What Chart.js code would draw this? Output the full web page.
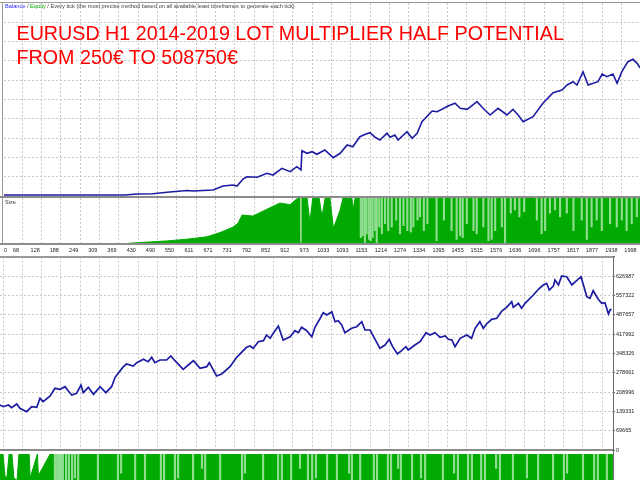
<!DOCTYPE html>
<html><head><meta charset="utf-8">
<script src="https://cdn.jsdelivr.net/npm/chart.js@4"></script>
<style>
html,body{margin:0;padding:0;background:#fff;width:640px;height:480px;overflow:hidden;position:relative}
canvas{position:absolute;left:0}
.ln{position:absolute;background:#8c8c8c;z-index:5}
.txt{position:absolute;font-family:"Liberation Sans",Arial,sans-serif;white-space:nowrap;z-index:6}
</style></head><body>
<canvas id="cTop" width="640" height="197" style="top:0"></canvas>
<canvas id="cSize" width="640" height="60" style="top:197px"></canvas>
<canvas id="cLowSize" width="640" height="50" style="top:452px"></canvas>
<canvas id="cLow" width="640" height="206" style="top:250px"></canvas>

<div class="ln" style="left:0;top:2px;width:640px;height:1px;background:#9a9a9a"></div>
<div class="ln" style="left:2px;top:2px;width:1px;height:242px;background:#9a9a9a"></div>
<div class="ln" style="left:0;top:196px;width:640px;height:2px"></div>
<div class="ln" style="left:0;top:243px;width:640px;height:2px"></div>
<div class="ln" style="left:0;top:256px;width:613px;height:2px;background:#9a9a9a"></div>
<div class="ln" style="left:0;top:449px;width:613px;height:2px"></div>
<div class="ln" style="left:613px;top:256px;width:1px;height:224px;background:#6a6a6a"></div>

<div class="txt" style="left:5px;top:3px;font-size:5.65px;line-height:7px;color:#444"><span style="color:#2a2aff">Balance</span> / <span style="color:#00a800">Equity</span> / Every tick (the most precise method based on all available least timeframes to generate each tick)</div>
<div class="txt" style="left:16.5px;top:20.5px;font-size:19.7px;line-height:24px;color:#ff0000">EURUSD H1 2014-2019 LOT MULTIPLIER HALF POTENTIAL<br>FROM 250€ TO 508750€</div>
<div class="txt" style="left:5px;top:199px;font-size:5.5px;line-height:7px;color:#333">Size</div>

<script>
// ---------- data ----------
const xTickLabels = ['0','68','128','188','249','309','369','430','490','550','611','671','731','792','852','912','973','1033','1093','1153','1214','1274','1334','1395','1455','1515','1576','1636','1696','1757','1817','1877','1938','1998'];
const yTickLabels = ['0','69665','139331','208996','278661','348326','417992','487657','557322','626987'];

const topTrades = [30,206,410,448,498,542,605,624,687,718,749,762,781,793,825,856,875,903,929,950,963,966,982,998,1013,1038,1064,1086,1108,1126,1148,1167,1180,1196,1211,1233,1243,1258,1268,1296,1312,1328,1343,1375,1390,1406,1425,1447,1463,1485,1516,1535,1557,1582,1610,1629,1645,1661,1692,1723,1755,1783,1799,1818,1830,1849,1865,1896,1909,1924,1943,1956,1971,1990,2006,2019,2028];
const topBalance = [250,250,250,4250,5450,11050,18250,16250,20250,36250,40250,36250,64250,73450,71050,87050,80250,107050,93450,113450,100250,177450,167050,173450,163050,180250,149450,167050,200250,193450,233450,244250,249450,231050,220250,247050,231050,240250,220250,253450,227050,247050,293450,336250,333450,343050,356250,367050,347050,343050,373450,347050,320250,347050,320250,343050,320250,293450,313450,367050,409450,420250,440250,453450,440250,493450,440250,453450,484250,473450,484250,447050,493450,533450,543050,527050,508750];

const sizeTrades = [30,413,420,489,542,605,668,709,749,765,778,812,856,897,929,944,954,958,959,964,966,982,991,1000,1020,1029,1039,1054,1065,1086,1095,1123,1127,1133,2028];
const sizeLots   = [0,0,1.5,4.5,6.7,10.5,15.7,25,36.6,45,63,60.7,75.7,89,85.4,95,100,100,2,2,100,100,48,100,100,59,100,100,34,74,100,100,75,100,100];
const sizeStripTrades = [1151,1157,1164,1169,1177,1182,1188,1196,1201,1209,1217,1227,1237,1248,1262,1274,1285,1297,1308,1316,1329,1337,1349,1360,1389,1412,1436,1452,1463,1471,1484,1505,1515,1536,1552,1562,1573,1594,1604,1622,1635,1649,1664,1704,1719,1730,1745,1761,1777,1798,1819,1845,1861,1876,1892,1908,1934,1955,1971,1986,2002,2018];
const sizeStripLows   = [14,18,3,22,10,7,14,29,3,37,22,44,29,37,52,22,40,29,26,37,52,59,29,44,7,52,29,10,18,14,44,29,22,37,7,10,29,37,3,67,74,59,70,52,22,29,67,74,59,67,29,52,10,37,52,29,44,37,52,29,44,59];

const lowTrades = [17,28,44,54,70,80,101,117,133,143,153,175,190,206,222,232,243,258,272,279,295,311,332,350,368,379,405,415,436,447,468,483,494,504,520,541,554,567,593,609,625,646,667,675,698,714,740,761,792,803,813,829,845,855,866,876,892,907,929,944,955,965,981,997,1007,1023,1033,1044,1060,1070,1080,1091,1101,1122,1138,1154,1164,1180,1196,1211,1227,1240,1251,1266,1279,1293,1300,1321,1337,1356,1368,1384,1400,1416,1426,1437,1447,1463,1484,1499,1510,1525,1536,1546,1562,1578,1594,1609,1625,1630,1646,1656,1667,1693,1709,1724,1735,1743,1756,1761,1772,1782,1798,1814,1829,1843,1861,1871,1881,1897,1908,1918,1929,1934,1939];
const lowBalance = [162180,156053,162180,152449,165784,150287,138033,156053,153891,186327,174073,194616,222367,218763,228133,212636,198220,204347,234260,206509,225971,200743,228133,206509,228133,262011,300213,309944,302736,314629,326883,318233,334091,314629,324360,324360,338776,321837,290843,306340,321837,294447,300213,314629,266696,273904,300213,334091,370131,374816,366527,390313,393917,414460,402567,420587,446896,396440,408333,429957,422749,442211,429957,408333,442211,473926,494829,486540,498433,462393,465997,450500,422749,438607,444373,462393,432480,432480,398963,366527,378420,398963,372293,345984,357877,372293,360400,378420,390313,422749,414460,422749,406171,410856,398963,396440,372293,402567,414460,402567,438607,462393,438607,454104,471043,474647,500956,514291,534473,514291,528707,510687,528707,558620,579163,594660,600787,576640,591056,612680,594660,627096,624573,594660,610157,624573,552493,546727,574117,543123,528707,530869,490144,504560,507083];

const lowSizeTrades = [17,27,33,39,46,55,61,71,77,109,112,135,138,175,1943];
const lowSizeLots   = [100,100,55,50,100,100,50,45,100,100,50,100,55,100,100];
const lowStripTrades = [190,197,203,209,215,225,234,244,253,263,325,388,398,442,473,523,533,567,577,624,652,662,709,778,787,844,891,903,932,960,985,998,1010,1045,1076,1114,1123,1149,1192,1202,1236,1246,1268,1277,1312,1340,1353,1409,1444,1456,1488,1500,1529,1541,1576,1588,1629,1673,1708,1755,1789,1799,1849,1884,1896,1924];
const lowStripLows   = [0,20,0,40,0,0,30,0,50,0,0,0,60,0,40,0,0,0,50,0,70,0,0,0,60,0,40,0,0,70,0,0,50,0,0,60,0,0,40,0,0,0,70,0,0,50,0,0,60,0,0,40,0,0,70,0,0,50,0,0,0,60,0,0,40,0];

// ---------- helpers ----------
Chart.defaults.font.family = '"Liberation Sans", Arial, sans-serif';
Chart.defaults.animation = false;
const GRID = '#c9c9c9';
const DARK = '#00aa00', LIGHT = '#8fdd8f', LINE = '#1c1ca2';
const X_TOP_MIN = 30, X_TOP_MAX = 2028, X_LOW_MIN = 17.43, X_LOW_MAX = 1943.3;
const GRID_X0 = 26.86, GRID_DX = 60.73;
function xGrid(min, max){const t=[];for(let v=GRID_X0;v<=max;v+=GRID_DX){if(v>=min)t.push({value:v});}return t;}
const pts = (xs, ys) => xs.map((x,i)=>({x:x, y:ys[i]}));
const strips = (xs, lows, top) => xs.map((x,i)=>({x:x, y:[lows[i], top]}));
const basePlugins = {legend:{display:false}, tooltip:{enabled:false}};
const hiddenX = (min,max) => ({type:'linear', min:min, max:max, offset:false,
  afterBuildTicks:s=>{s.ticks=xGrid(min,max);}, afterFit:s=>{s.height=0;},
  ticks:{display:false}, grid:{color:GRID, drawTicks:false, offset:false}, border:{display:false, dash:[2,2]}});

// ---------- top balance chart ----------
new Chart(document.getElementById('cTop'), {
  type:'line',
  data:{datasets:[{data:pts(topTrades, topBalance), borderColor:LINE, borderWidth:1.6, pointRadius:0, tension:0, fill:false}]},
  options:{responsive:false, events:[], layout:{padding:{left:4, top:3, right:0, bottom:1}}, plugins:basePlugins,
    scales:{
      x: hiddenX(X_TOP_MIN, X_TOP_MAX),
      y:{type:'linear', min:-3750, max:768250,
        afterBuildTicks:s=>{const t=[];for(let k=1;k<=9;k++)t.push({value:768250-77333.3*k});s.ticks=t;},
        afterFit:s=>{s.width=0;}, ticks:{display:false}, grid:{color:GRID, drawTicks:false}, border:{display:false, dash:[2,2]}}
    }}
});

// ---------- size panel with x labels ----------
new Chart(document.getElementById('cSize'), {
  type:'bar',
  data:{datasets:[
    {type:'bar', data:strips(sizeStripTrades, sizeStripLows, 100), backgroundColor:LIGHT, barThickness:1.5, order:0, xAxisID:'x', yAxisID:'y'},
    {type:'line', data:pts(sizeTrades, sizeLots), fill:'origin', backgroundColor:DARK, borderColor:DARK, borderWidth:1, pointRadius:0, tension:0, order:1, xAxisID:'x', yAxisID:'y'}
  ]},
  options:{responsive:false, events:[], layout:{padding:{left:4, top:1, right:0, bottom:0}}, plugins:basePlugins,
    scales:{
      x: hiddenX(X_TOP_MIN, X_TOP_MAX),
      xl:{type:'linear', position:'bottom', min:X_TOP_MIN, max:X_TOP_MAX, offset:false,
        afterBuildTicks:s=>{s.ticks=xTickLabels.map((l,i)=>({value: i===0 ? X_TOP_MIN+4.5 : Number(l)}));},
        afterFit:s=>{s.height=13;},
        ticks:{autoSkip:false, maxRotation:0, minRotation:0, padding:3, color:'#222', font:{size:5.5},
          callback:(v,i)=>xTickLabels[i]},
        grid:{display:false, drawTicks:false, offset:false}, border:{display:false}},
      y:{type:'linear', min:0, max:100, display:true, afterFit:s=>{s.width=0;}, ticks:{display:false}, grid:{display:false}, border:{display:false}}
    }}
});

// ---------- lower balance chart ----------
new Chart(document.getElementById('cLow'), {
  type:'line',
  data:{datasets:[{data:pts(lowTrades, lowBalance), borderColor:LINE, borderWidth:1.7, pointRadius:0, tension:0, fill:false}]},
  options:{responsive:false, events:[], layout:{padding:{left:0, top:6.7, right:0, bottom:6}}, plugins:basePlugins,
    scales:{
      x: hiddenX(X_LOW_MIN, X_LOW_MAX),
      y:{type:'linear', position:'right', min:0, max:696652.2,
        afterBuildTicks:s=>{const t=[];for(let k=0;k<=10;k++)t.push({value:69665.22*k});s.ticks=t;},
        afterFit:s=>{s.width=27;},
        ticks:{padding:1, color:'#222', font:{size:5.5}, callback:(v,i)=> (i<yTickLabels.length ? yTickLabels[i] : '')},
        grid:{color:GRID, tickLength:2, tickColor:'#555', tickBorderDash:[]}, border:{display:false, dash:[2,2]}}
    }}
});

// ---------- lower size panel ----------
new Chart(document.getElementById('cLowSize'), {
  type:'bar',
  data:{datasets:[
    {type:'bar', data:strips(lowStripTrades, lowStripLows, 100), backgroundColor:LIGHT, barThickness:1.5, order:0},
    {type:'line', data:pts(lowSizeTrades, lowSizeLots), fill:'origin', backgroundColor:DARK, borderColor:DARK, borderWidth:1, pointRadius:0, tension:0, order:1}
  ]},
  options:{responsive:false, events:[], layout:{padding:{left:0, top:2, right:27, bottom:0}}, plugins:basePlugins,
    scales:{
      x:{type:'linear', min:X_LOW_MIN, max:X_LOW_MAX, display:false, offset:false, grid:{offset:false}},
      y:{type:'linear', min:0, max:100, display:false}
    }}
});
</script>
</body></html>
